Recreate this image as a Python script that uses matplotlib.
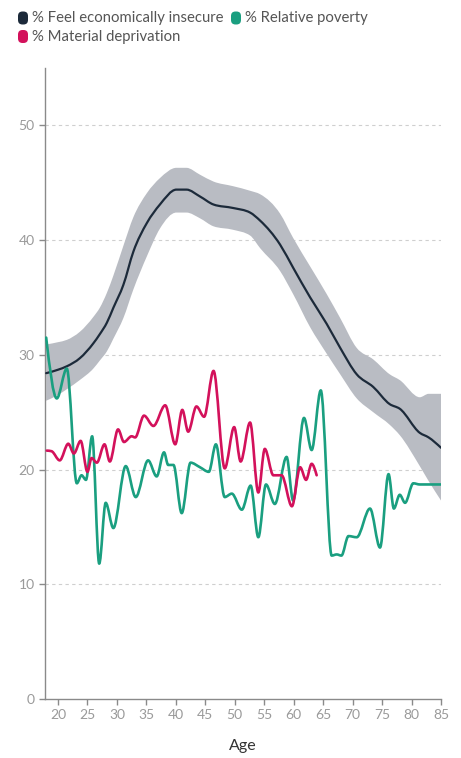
import numpy as np
import matplotlib
matplotlib.use("Agg")
import matplotlib.pyplot as plt
from matplotlib.path import Path
from matplotlib.patches import PathPatch, FancyBboxPatch
from matplotlib.transforms import IdentityTransform

plt.rcParams["font.family"] = ["Lato", "DejaVu Sans"]

# ---- data -------------------------------------------------------------
insecure_age = [18.0, 20.0, 21.5, 23.7, 26.0, 27.1, 28.3, 29.4, 31.1, 32.8,
                35.1, 37.3, 40.1, 41.8, 44.1, 46.4, 49.7, 52.6, 54.3, 57.7,
                59.9, 62.8, 65.6, 67.9, 70.7, 73.5, 76.3, 78.0, 81.4, 82.9, 85.0]
insecure_pct = [28.4, 28.7, 29.0, 29.7, 31.0, 31.8, 32.8, 34.1, 36.1, 39.0,
                41.5, 43.1, 44.4, 44.4, 43.8, 43.1, 42.8, 42.4, 41.7, 39.6,
                37.6, 35.0, 32.7, 30.6, 28.3, 27.2, 25.7, 25.3, 23.2, 22.8, 21.9]
insecure_hi = [30.9, 31.1, 31.3, 32.0, 33.3, 34.1, 35.4, 36.9, 39.5, 42.0,
               44.1, 45.4, 46.3, 46.3, 45.7, 45.1, 44.7, 44.3, 44.0, 42.3,
               40.2, 37.7, 35.3, 33.2, 30.6, 29.6, 28.3, 27.8, 26.3, 26.6, 26.6]
insecure_lo = [26.0, 26.5, 27.0, 27.8, 28.8, 29.5, 30.3, 31.4, 33.2, 35.7,
               38.6, 41.0, 42.4, 42.4, 41.9, 41.2, 40.9, 40.4, 39.3, 37.3,
               35.3, 32.4, 30.1, 28.3, 26.2, 25.0, 23.9, 23.0, 20.3, 19.0, 17.3]

poverty_age = [18.0, 19.8, 21.5, 23.2, 24.0, 24.75, 25.8, 27.0, 28.1, 29.4,
               31.5, 33.2, 35.3, 36.75, 38.0, 38.7, 39.6, 41.0, 42.5, 44.1,
               45.6, 46.8, 48.3, 49.5, 51.2, 52.7, 54.0, 55.3, 56.8, 58.8,
               59.9, 61.75, 63.05, 64.6, 66.45, 67.3, 68.1, 69.3, 70.7, 72.95,
               74.65, 76.1, 77.0, 78.0, 78.9, 80.3, 81.4, 85.0]
poverty_pct = [31.5, 26.2, 28.8, 18.8, 19.5, 19.1, 22.9, 11.8, 17.1, 14.9,
               20.3, 17.6, 20.8, 19.4, 21.5, 20.4, 20.4, 16.2, 20.6, 20.2,
               19.8, 22.2, 17.6, 17.9, 16.5, 18.6, 14.1, 18.7, 17.0, 21.1,
               17.3, 24.5, 21.7, 26.9, 12.5, 12.6, 12.5, 14.2, 14.1, 16.6,
               13.2, 19.6, 16.6, 17.8, 17.1, 18.8, 18.7, 18.7]

deprivation_age = [18.1, 18.9, 20.3, 21.75, 22.7, 23.85, 25.0, 25.7, 26.6, 27.9,
                   28.8, 30.2, 31.2, 32.5, 33.1, 34.6, 36.2, 38.2, 39.9, 41.1,
                   42.1, 43.5, 44.8, 46.4, 48.3, 49.9, 51.0, 52.6, 54.0, 55.1,
                   56.55, 57.95, 59.7, 61.1, 62.1, 63.05, 63.9]
deprivation_pct = [21.65, 21.6, 20.8, 22.25, 21.4, 22.5, 19.8, 21.0, 20.6, 22.2,
                   20.7, 23.5, 22.4, 22.9, 22.8, 24.7, 23.8, 25.6, 22.2, 25.2,
                   23.3, 25.5, 24.6, 28.6, 20.1, 23.7, 20.7, 24.1, 18.0, 21.8,
                   19.5, 19.5, 16.8, 20.2, 19.1, 20.5, 19.5]

x_ticks = list(range(20, 86, 5))
y_ticks = [0, 10, 20, 30, 40, 50]

legend_labels = ["% Feel economically insecure", "% Relative poverty",
                 "% Material deprivation"]

C_INSECURE = "#1c2a3a"
C_BAND = "#b9bcc3"
C_POVERTY = "#1a9f80"
C_DEPRIV = "#d3115b"


# ---- monotone cubic curve segments (x-monotone, like curveMonotoneX) --
def _tangents(x, y):
    x = np.asarray(x, float)
    y = np.asarray(y, float)
    n = len(x)
    h = np.diff(x)
    s = np.diff(y) / h
    m = np.zeros(n)
    for i in range(1, n - 1):
        h0, h1, s0, s1 = h[i - 1], h[i], s[i - 1], s[i]
        p = (s0 * h1 + s1 * h0) / (h0 + h1)
        m[i] = (np.sign(s0) + np.sign(s1)) * min(abs(s0), abs(s1), 0.5 * abs(p))
    m[0] = (3 * s[0] - m[1]) / 2 if n > 2 else s[0]
    m[-1] = (3 * s[-1] - m[-2]) / 2 if n > 2 else s[-1]
    return x, y, m


def segments(x, y):
    x, y, m = _tangents(x, y)
    segs = []
    for i in range(len(x) - 1):
        d = (x[i + 1] - x[i]) / 3
        segs.append(((x[i], y[i]), (x[i] + d, y[i] + m[i] * d),
                     (x[i + 1] - d, y[i + 1] - m[i + 1] * d), (x[i + 1], y[i + 1])))
    return segs


def curve_path(x, y):
    segs = segments(x, y)
    verts = [segs[0][0]]
    codes = [Path.MOVETO]
    for s in segs:
        verts += [s[1], s[2], s[3]]
        codes += [Path.CURVE4] * 3
    return Path(verts, codes)


def band_path(x, hi, lo):
    up = segments(x, hi)
    dn = segments(x, lo)
    verts = [up[0][0]]
    codes = [Path.MOVETO]
    for s in up:
        verts += [s[1], s[2], s[3]]
        codes += [Path.CURVE4] * 3
    verts.append(dn[-1][3])
    codes.append(Path.LINETO)
    for s in reversed(dn):
        verts += [s[2], s[1], s[0]]
        codes += [Path.CURVE4] * 3
    verts.append(up[0][0])
    codes.append(Path.CLOSEPOLY)
    return Path(verts, codes)


# ---- figure -----------------------------------------------------------
W, H = 461, 758
fig = plt.figure(figsize=(W / 100, H / 100), dpi=100)
ax = fig.add_axes([45 / W, 1 - 699 / H, (441 - 45) / W, (699 - 68) / H])

ax.set_xlim(17.8, 85)
ax.set_ylim(0, 55)

for v in y_ticks[1:]:
    ax.axhline(v, color="#cfcfcf", lw=0.8, ls=(0, (3, 3)), zorder=0)

ax.add_patch(PathPatch(band_path(insecure_age, insecure_hi, insecure_lo),
                       facecolor=C_BAND, edgecolor="none", zorder=1))
ax.add_patch(PathPatch(curve_path(insecure_age, insecure_pct), fill=False,
                       edgecolor=C_INSECURE, lw=1.6, capstyle="round",
                       joinstyle="round", zorder=3))
ax.add_patch(PathPatch(curve_path(poverty_age, poverty_pct), fill=False,
                       edgecolor=C_POVERTY, lw=1.9, capstyle="round",
                       joinstyle="round", zorder=4))
ax.add_patch(PathPatch(curve_path(deprivation_age, deprivation_pct), fill=False,
                       edgecolor=C_DEPRIV, lw=1.9, capstyle="round",
                       joinstyle="round", zorder=5))

for side in ("top", "right"):
    ax.spines[side].set_visible(False)
for side in ("left", "bottom"):
    ax.spines[side].set_color("#8a8a8a")
    ax.spines[side].set_linewidth(1.0)

ax.set_xticks(x_ticks)
ax.set_yticks(y_ticks)
ax.tick_params(axis="both", colors="#8a8a8a", length=4.5, width=1.0,
               labelsize=10, labelcolor="#9a9a9a", pad=3)
ax.set_xlabel("Age", fontsize=11.5, color="#333333", labelpad=13)

# ---- legend -------------------------------------------------------------
legend_items = [(C_INSECURE, legend_labels[0], 18, 18),
                (C_POVERTY, legend_labels[1], 231, 18),
                (C_DEPRIV, legend_labels[2], 18, 36.5)]
for color, label, px, py in legend_items:
    ybot = H - py - 6.5
    fig.patches.append(FancyBboxPatch((px, ybot), 10, 13,
                                      boxstyle="round,pad=0,rounding_size=4.5",
                                      facecolor=color, edgecolor="none",
                                      transform=IdentityTransform(), figure=fig))
    fig.text((px + 14) / W, 1 - py / H, label, fontsize=10.7, color="#555555",
             va="center", ha="left")

fig.savefig("out.png", dpi=100)
